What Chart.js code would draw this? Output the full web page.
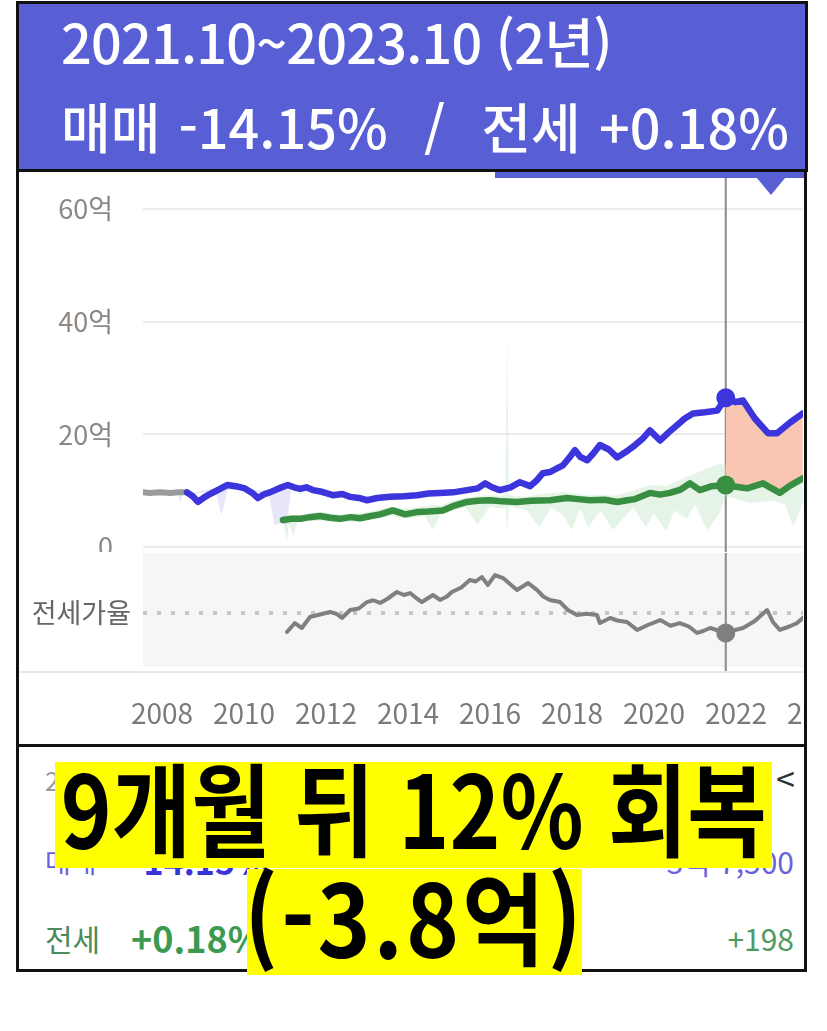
<!DOCTYPE html>
<html lang="ko">
<head>
<meta charset="utf-8">
<script src="https://cdn.jsdelivr.net/npm/chart.js@4.4.0/dist/chart.umd.min.js"></script>
<style>
  html, body { margin: 0; padding: 0; background: #fff; }
  body { width: 827px; height: 1031px; position: relative; overflow: hidden;
         font-family: "Noto Sans CJK KR", "Noto Sans", sans-serif; }
  #head { position: absolute; left: 16px; top: 1px; width: 786px; height: 165px;
          background: #585fd5; border: 3px solid #111; color: #fff; z-index: 3; }
  #head .ln { position: absolute; left: 42px; white-space: pre; font-size: 54px; line-height: 1; font-weight: 500; }
  #plot { position: absolute; left: 16px; top: 172px; width: 785px; height: 572px;
          border-left: 3px solid #111; border-right: 3px solid #111; border-bottom: 3px solid #111;
          overflow: hidden; z-index: 1; }
  #plot canvas { position: absolute; left: 0; }
  #strip { position: absolute; left: 476px; top: 0; width: 312px; height: 6px; background: #585fd5; z-index: 2; }
  #pin { position: absolute; left: 733px; top: 0; width: 0; height: 0; z-index: 2;
         border-left: 19px solid transparent; border-right: 19px solid transparent; border-top: 23px solid #585fd5; }
  #axisfoot { position: absolute; left: 0; top: 499px; width: 785px; height: 2px; background: #e8e8e8; z-index: 2; }
  #info { position: absolute; left: 16px; top: 747px; width: 785px; height: 222px;
          border-left: 3px solid #111; border-right: 3px solid #111; border-bottom: 3px solid #111; z-index: 1; }
  .t { position: absolute; white-space: pre; line-height: 1; }
  .hl { position: absolute; background: #ffff00; color: #000; font-weight: 700; z-index: 4;
        display: flex; align-items: center; justify-content: center; white-space: pre; overflow: visible; }
  .hl span { display: inline-block; }
</style>
</head>
<body>
<div id="head">
  <div class="ln" style="top:10px;letter-spacing:-0.8px">2021.10~2023.10 (2년)</div>
  <div class="ln" style="top:95px;word-spacing:3px">매매 -14.15%  /  전세 +0.18%</div>
</div>

<div id="plot">
  <canvas id="priceChart" width="785" height="380" style="top:0;width:785px;height:380px"></canvas>
  <canvas id="ratioChart" width="811" height="192" style="top:380px;width:811px;height:192px"></canvas>
  <div id="strip"></div>
  <div id="pin"></div>
  <div id="axisfoot"></div>
</div>

<div id="info">
  <div class="t" style="left:26px;top:20px;font-size:26px;color:#9a9a9a">2021.10 ~ 2023.10</div>
  <div class="t" style="left:757px;top:14px;font-size:34px;color:#333">&lt;</div>
  <div class="t" style="left:26px;top:100px;font-size:28px;color:#6a62d8">매매</div>
  <div class="t" style="left:112px;top:97px;font-size:34px;font-weight:700;color:#3a33d6">-14.15%</div>
  <div class="t" style="right:10px;top:99px;font-size:30px;color:#6a62d8">-3억 7,500</div>
  <div class="t" style="left:26px;top:176px;font-size:30px;color:#4b8a5b">전세</div>
  <div class="t" style="left:112px;top:172px;font-size:36px;font-weight:700;color:#3c9a50">+0.18%</div>
  <div class="t" style="right:10px;top:176px;font-size:30px;color:#4f9a60">+198</div>
</div>

<div class="hl" style="left:55px;top:762px;width:717px;height:106px;font-size:90px">
  <span style="transform:translateY(-10px) scale(0.96,1.12)">9개월 뒤 12% 회복</span></div>
<div class="hl" style="left:247px;top:869px;width:335px;height:106px;font-size:90px">
  <span style="transform:translateY(-8px) scale(1,1.12);letter-spacing:3px">(-3.8억)</span></div>

<script>
// ---- 매매 시세 (억원), x = 연도 ----
const preYears  = [2007.44, 2007.7, 2007.95, 2008.2, 2008.4, 2008.61];
const prePrice  = [9.8, 9.6, 9.7, 9.6, 9.7, 9.7];

const saleYears = [2008.61, 2008.75, 2008.88, 2009.03, 2009.17, 2009.38, 2009.59, 2009.8, 2010.02, 2010.2,
  2010.34, 2010.5, 2010.63, 2010.85, 2011.07, 2011.22, 2011.37, 2011.52, 2011.68, 2011.9,
  2012.17, 2012.4, 2012.59, 2012.8, 2013.0, 2013.25, 2013.56, 2013.9, 2014.22, 2014.5,
  2014.78, 2015.1, 2015.44, 2015.7, 2015.88, 2016.05, 2016.24, 2016.5, 2016.73, 2016.98,
  2017.15, 2017.29, 2017.46, 2017.62, 2017.78, 2017.95, 2018.07, 2018.2, 2018.37, 2018.52,
  2018.68, 2018.9, 2019.1, 2019.3, 2019.54, 2019.72, 2019.9, 2020.15, 2020.35, 2020.56,
  2020.75, 2020.95, 2021.24, 2021.54, 2021.75, 2021.98, 2022.17, 2022.46, 2022.78, 2023.0,
  2023.32, 2023.63];
const salePrice = [9.7, 9.0, 8.0, 8.8, 9.4, 10.2, 11.0, 10.8, 10.4, 9.6,
  8.7, 9.4, 9.7, 10.4, 11.0, 10.6, 10.3, 10.6, 10.1, 9.8,
  9.2, 9.4, 8.9, 8.7, 8.3, 8.7, 8.9, 9.0, 9.2, 9.5,
  9.6, 9.7, 10.1, 10.4, 11.3, 10.6, 10.1, 10.6, 11.5, 10.8,
  11.9, 13.1, 13.3, 13.9, 14.5, 16.0, 17.2, 16.0, 15.4, 16.6,
  18.1, 17.3, 15.9, 16.8, 18.1, 19.2, 20.7, 18.9, 20.3, 21.6,
  22.8, 23.7, 23.9, 24.2, 26.5, 25.7, 26.0, 22.8, 20.2, 20.2,
  22.1, 23.7];

// ---- 전세 시세 (억원) ----
const jeonseYears = [2010.95, 2011.15, 2011.37, 2011.6, 2011.85, 2012.1, 2012.34, 2012.6, 2012.83, 2013.1,
  2013.32, 2013.63, 2013.93, 2014.22, 2014.5, 2014.85, 2015.15, 2015.44, 2015.7, 2016.0,
  2016.3, 2016.66, 2017.0, 2017.46, 2017.88, 2018.15, 2018.44, 2018.8, 2019.1, 2019.35,
  2019.54, 2019.9, 2020.15, 2020.39, 2020.65, 2020.88, 2021.12, 2021.41, 2021.75, 2022.0,
  2022.27, 2022.66, 2022.85, 2023.07, 2023.3, 2023.63];
const jeonsePrice = [4.8, 5.0, 5.0, 5.3, 5.5, 5.2, 5.0, 5.3, 5.1, 5.5,
  5.8, 6.5, 5.8, 6.2, 6.3, 6.5, 7.4, 8.0, 8.2, 8.3,
  8.1, 8.0, 8.2, 8.3, 8.7, 8.5, 8.3, 8.4, 8.0, 8.3,
  8.5, 9.6, 9.3, 9.6, 10.2, 11.3, 10.1, 10.8, 11.0, 10.7,
  10.4, 11.3, 10.5, 9.6, 10.8, 12.2];

// ---- 실거래 범위 (억원) ----
const saleBandYears = [2008.4, 2008.45, 2008.5, 2008.7, 2009.3, 2009.45, 2009.6, 2010.6, 2010.75, 2010.9, 2011.05, 2011.15];
const saleBandHigh  = [9.6, 9.6, 9.6, 9.5, 10.5, 10.6, 10.8, 9.8, 10.2, 10.6, 10.9, 10.9];
const saleBandLow   = [9.4, 7.8, 9.4, 9.3, 10.0, 5.7, 10.2, 9.5, 3.9, 4.2, 4.0, 10.5];

const jeonseBandYears = [2010.95, 2011.05, 2011.1, 2011.2, 2011.3, 2011.45, 2011.6, 2011.9, 2012.3, 2012.8,
  2013.2, 2013.6, 2014.0, 2014.4, 2014.6, 2014.8, 2015.1, 2015.4, 2015.7, 2016.0,
  2016.3, 2016.38, 2016.42, 2016.46, 2016.6, 2016.9, 2017.2, 2017.5, 2017.8, 2018.0,
  2018.2, 2018.4, 2018.7, 2019.0, 2019.3, 2019.5, 2019.8, 2020.0, 2020.3, 2020.5,
  2020.8, 2021.0, 2021.3, 2021.6, 2021.75, 2022.0, 2022.3, 2022.6, 2022.9, 2023.2,
  2023.4, 2023.63];
const jeonseBandHigh = [5.5, 5.6, 5.5, 5.6, 5.8, 5.7, 6.0, 6.2, 5.8, 6.0,
  6.5, 7.2, 6.8, 7.2, 7.5, 7.4, 8.2, 8.8, 9.0, 9.2,
  9.1, 9.3, 38.0, 9.3, 9.0, 9.0, 9.3, 9.6, 9.8, 9.5,
  9.4, 9.2, 9.3, 9.1, 9.6, 10.0, 10.8, 11.0, 10.8, 11.5,
  12.5, 13.0, 14.0, 14.8, 14.5, 13.0, 12.5, 12.0, 12.0, 12.6,
  13.0, 13.2];
const jeonseBandLow = [4.3, 1.2, 4.2, 2.0, 4.4, 4.5, 4.6, 4.6, 4.4, 4.5,
  5.0, 5.5, 5.0, 5.6, 3.0, 5.8, 6.5, 7.0, 4.0, 7.2,
  6.8, 7.0, 2.5, 7.2, 7.0, 6.5, 3.5, 7.0, 5.5, 3.0,
  6.8, 3.5, 6.5, 3.0, 5.5, 7.0, 3.5, 6.0, 2.8, 6.5,
  5.0, 7.5, 3.0, 6.0, 9.0, 8.5, 7.8, 8.0, 8.2, 7.5,
  3.5, 8.0];

// ---- 전세가율 (%) ----
const ratioYears = [2011.05, 2011.24, 2011.41, 2011.61, 2011.85, 2012.1, 2012.25, 2012.39, 2012.59, 2012.8,
  2013.0, 2013.15, 2013.32, 2013.5, 2013.73, 2013.9, 2014.05, 2014.2, 2014.34, 2014.61,
  2014.78, 2014.95, 2015.07, 2015.3, 2015.51, 2015.65, 2015.8, 2015.95, 2016.12, 2016.32,
  2016.5, 2016.66, 2016.93, 2017.15, 2017.3, 2017.46, 2017.71, 2017.9, 2018.12, 2018.35,
  2018.61, 2018.68, 2018.93, 2019.1, 2019.34, 2019.59, 2019.85, 2020.15, 2020.4, 2020.63,
  2020.85, 2021.05, 2021.2, 2021.37, 2021.55, 2021.75, 2021.95, 2022.17, 2022.45, 2022.76,
  2022.9, 2023.07, 2023.3, 2023.49, 2023.63];
const ratioValue = [37.3, 43.3, 40.0, 47.3, 49.0, 50.7, 49.5, 46.7, 52.0, 53.0,
  57.3, 58.5, 56.7, 59.5, 64.0, 62.0, 63.3, 60.0, 57.3, 62.0,
  58.7, 61.0, 64.0, 67.0, 72.0, 71.0, 74.0, 68.7, 75.3, 73.3,
  69.0, 65.3, 70.0, 65.3, 61.0, 58.7, 57.3, 52.0, 48.7, 49.5,
  48.7, 43.3, 46.7, 45.0, 44.0, 38.7, 42.0, 45.3, 41.5, 43.3,
  41.0, 36.7, 38.0, 40.0, 38.5, 36.7, 38.5, 40.0, 44.5, 52.0,
  44.0, 38.7, 41.0, 43.3, 46.7];
const ratioRefLine = 50;

// ---- 기준 시점 (2021.10) ----
const baseYear = 2021.75;
const baseSale = 26.5;
const baseJeonse = 11.0;
const baseRatio = 36.7;

// ---- 축 ----
const yearTicks = [2008, 2010, 2012, 2014, 2016, 2018, 2020, 2022, 2024];
const priceTicks = [0, 20, 40, 60];
const priceTickLabels = ['0', '20억', '40억', '60억'];
const X_MIN = 2007.537, X_MAX = 2023.634;

const FONT = '"Noto Sans CJK KR", "Noto Sans", sans-serif';
const BLUE = '#3d35dc', GREEN = '#398f41', GREY = '#808080';

const pts = (xs, ys) => xs.map((x, i) => ({ x, y: ys[i] }));
const after = (xs, ys, from) => pts(xs, ys).filter(p => p.x >= from);

// vertical cursor at the base month
const cursorLine = {
  id: 'cursorLine',
  beforeDatasetsDraw(chart, args, opts) {
    const { ctx, chartArea, scales } = chart;
    const x = scales.x.getPixelForValue(opts.at);
    ctx.save();
    ctx.strokeStyle = '#8a8a8a';
    ctx.lineWidth = 2;
    ctx.beginPath();
    ctx.moveTo(x, chartArea.top);
    ctx.lineTo(x, chartArea.bottom + (opts.extend || 0));
    ctx.stroke();
    ctx.restore();
  }
};

// grey backdrop of the ratio strip
const panelFill = {
  id: 'panelFill',
  beforeDraw(chart, args, opts) {
    if (!opts.color) return;
    const { ctx, chartArea: a } = chart;
    ctx.save();
    ctx.fillStyle = opts.color;
    ctx.fillRect(a.left, a.top, a.right - a.left, a.bottom - a.top);
    ctx.restore();
  }
};

Chart.register(cursorLine, panelFill);
Chart.defaults.font.family = FONT;

const lineDs = (label, data, color, width, order, extra) => Object.assign({
  label, data, borderColor: color, borderWidth: width, pointRadius: 0,
  tension: 0, fill: false, order, borderJoinStyle: 'round', borderCapStyle: 'round'
}, extra || {});

const dotDs = (label, x, y, color, order) => ({
  label, data: [{ x, y }], showLine: false, pointRadius: 9.5, pointHoverRadius: 9.5,
  pointBackgroundColor: color, pointBorderColor: color, pointBorderWidth: 0, order
});

new Chart(document.getElementById('priceChart'), {
  type: 'line',
  data: {
    datasets: [
      dotDs('매매 기준', baseYear, baseSale, BLUE, 0),
      dotDs('전세 기준', baseYear, baseJeonse, GREEN, 0),
      lineDs('매매', pts(saleYears, salePrice), BLUE, 6.5, 1),
      lineDs('전세', pts(jeonseYears, jeonsePrice), GREEN, 6.5, 2),
      lineDs('매매(이전)', pts(preYears, prePrice), '#9a9a9a', 6, 3),
      lineDs('하락폭', after(saleYears, salePrice, baseYear), 'rgba(0,0,0,0)', 0, 4,
             { fill: '+1', backgroundColor: '#f8c6b2' }),
      lineDs('하락폭 기준', after(jeonseYears, jeonsePrice, baseYear), 'rgba(0,0,0,0)', 0, 5),
      lineDs('매매 범위', pts(saleBandYears, saleBandHigh), 'rgba(0,0,0,0)', 0, 6,
             { fill: '+1', backgroundColor: 'rgba(175,172,240,0.3)' }),
      lineDs('매매 범위 하단', pts(saleBandYears, saleBandLow), 'rgba(0,0,0,0)', 0, 7),
      lineDs('전세 범위', pts(jeonseBandYears, jeonseBandHigh), 'rgba(0,0,0,0)', 0, 8,
             { fill: '+1', backgroundColor: 'rgba(200,230,204,0.45)' }),
      lineDs('전세 범위 하단', pts(jeonseBandYears, jeonseBandLow), 'rgba(0,0,0,0)', 0, 9)
    ]
  },
  options: {
    responsive: false, animation: false, devicePixelRatio: 1,
    layout: { padding: { left: 0, right: 1, top: 0, bottom: 0 }, autoPadding: false },
    plugins: { legend: { display: false }, tooltip: { enabled: false },
               cursorLine: { at: baseYear, extend: 0 }, panelFill: {} },
    scales: {
      x: { type: 'linear', min: X_MIN, max: X_MAX, display: false },
      y: {
        min: -0.885, max: 66.55,
        afterBuildTicks: s => { s.ticks = priceTicks.map(v => ({ value: v })); },
        afterFit: s => { s.width = 124; s.paddingTop = 0; s.paddingBottom = 0; },
        ticks: { padding: 30, color: '#8d8884', font: { size: 27 },
                 callback: v => priceTickLabels[priceTicks.indexOf(v)] },
        grid: { color: '#ebebeb', lineWidth: 2, drawTicks: false },
        border: { display: false }
      }
    }
  }
});

new Chart(document.getElementById('ratioChart'), {
  type: 'line',
  data: {
    datasets: [
      dotDs('전세가율 기준', baseYear, baseRatio, GREY, 0),
      lineDs('전세가율', pts(ratioYears, ratioValue), GREY, 4, 1)
    ]
  },
  options: {
    responsive: false, animation: false, devicePixelRatio: 1,
    layout: { padding: { left: 0, right: 27, top: 1, bottom: 0 }, autoPadding: false },
    plugins: { legend: { display: false }, tooltip: { enabled: false },
               cursorLine: { at: baseYear, extend: 5 }, panelFill: { color: '#f6f6f6' } },
    scales: {
      x: {
        type: 'linear', min: X_MIN, max: X_MAX,
        afterBuildTicks: s => { s.ticks = yearTicks.map(v => ({ value: v })); },
        afterFit: s => { s.height = 77; s.paddingLeft = 0; s.paddingRight = 0; },
        ticks: { autoSkip: false, maxRotation: 0, padding: 22, color: '#7d7b78',
                 font: { size: 28 }, callback: v => String(v) },
        grid: { display: false }, border: { display: false }
      },
      y: {
        min: 14, max: 90,
        afterBuildTicks: s => { s.ticks = [{ value: ratioRefLine }]; },
        afterFit: s => { s.width = 124; s.paddingTop = 0; s.paddingBottom = 0; },
        ticks: { padding: 12, color: '#666', font: { size: 27 }, callback: () => '전세가율' },
        grid: { color: '#c6c6c6', lineWidth: 4, drawTicks: false },
        border: { display: false, dash: [4, 10] }
      }
    }
  }
});
</script>
</body>
</html>
